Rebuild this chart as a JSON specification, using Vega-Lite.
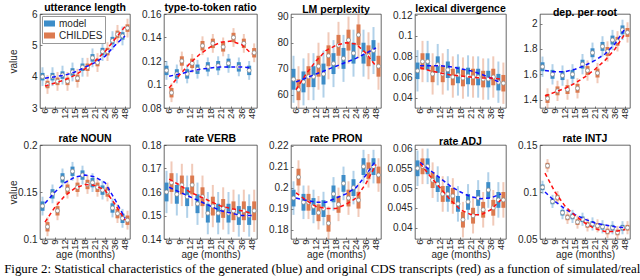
{
"$schema":"https://vega.github.io/schema/vega-lite/v6.json",
"padding":{"left":4,"top":2,"right":0,"bottom":0},
"datasets":{
"p1":[
{"a":"6","g":"model","lo":3.7,"q1":3.88,"m":4.0,"q3":4.12,"hi":4.3,"t":3.95},
{"a":"9","g":"model","lo":3.7,"q1":3.88,"m":4.0,"q3":4.12,"hi":4.3,"t":4.0},
{"a":"12","g":"model","lo":3.75,"q1":3.93,"m":4.05,"q3":4.17,"hi":4.35,"t":4.05},
{"a":"15","g":"model","lo":3.85,"q1":4.03,"m":4.15,"q3":4.27,"hi":4.45,"t":4.15},
{"a":"18","g":"model","lo":4.0,"q1":4.18,"m":4.3,"q3":4.42,"hi":4.6,"t":4.3},
{"a":"21","g":"model","lo":4.3,"q1":4.48,"m":4.6,"q3":4.72,"hi":4.9,"t":4.45},
{"a":"24","g":"model","lo":4.5,"q1":4.68,"m":4.8,"q3":4.92,"hi":5.1,"t":4.65},
{"a":"36","g":"model","lo":4.85,"q1":5.03,"m":5.15,"q3":5.27,"hi":5.45,"t":5.0},
{"a":"48","g":"model","lo":5.0,"q1":5.18,"m":5.3,"q3":5.42,"hi":5.6,"t":5.3},
{"a":"6","g":"CHILDES","lo":3.45,"q1":3.63,"m":3.75,"q3":3.87,"hi":4.05,"t":3.7},
{"a":"9","g":"CHILDES","lo":3.55,"q1":3.73,"m":3.85,"q3":3.97,"hi":4.15,"t":3.8},
{"a":"12","g":"CHILDES","lo":3.55,"q1":3.73,"m":3.85,"q3":3.97,"hi":4.15,"t":3.9},
{"a":"15","g":"CHILDES","lo":3.65,"q1":3.83,"m":3.95,"q3":4.07,"hi":4.25,"t":4.05},
{"a":"18","g":"CHILDES","lo":4.0,"q1":4.18,"m":4.3,"q3":4.42,"hi":4.6,"t":4.25},
{"a":"21","g":"CHILDES","lo":4.15,"q1":4.33,"m":4.45,"q3":4.57,"hi":4.75,"t":4.5},
{"a":"24","g":"CHILDES","lo":4.5,"q1":4.68,"m":4.8,"q3":4.92,"hi":5.1,"t":4.8},
{"a":"36","g":"CHILDES","lo":5.05,"q1":5.23,"m":5.35,"q3":5.47,"hi":5.65,"t":5.2},
{"a":"48","g":"CHILDES","lo":5.25,"q1":5.43,"m":5.55,"q3":5.67,"hi":5.85,"t":5.6}
],
"p2":[
{"a":"6","g":"model","lo":0.104,"q1":0.108,"m":0.112,"q3":0.116,"hi":0.120,"t":0.107},
{"a":"9","g":"model","lo":0.101,"q1":0.105,"m":0.109,"q3":0.113,"hi":0.117,"t":0.109},
{"a":"12","g":"model","lo":0.101,"q1":0.105,"m":0.109,"q3":0.113,"hi":0.117,"t":0.111},
{"a":"15","g":"model","lo":0.105,"q1":0.109,"m":0.113,"q3":0.117,"hi":0.121,"t":0.113},
{"a":"18","g":"model","lo":0.107,"q1":0.111,"m":0.115,"q3":0.119,"hi":0.123,"t":0.114},
{"a":"21","g":"model","lo":0.108,"q1":0.112,"m":0.116,"q3":0.120,"hi":0.124,"t":0.115},
{"a":"24","g":"model","lo":0.110,"q1":0.114,"m":0.118,"q3":0.122,"hi":0.126,"t":0.115},
{"a":"36","g":"model","lo":0.107,"q1":0.111,"m":0.115,"q3":0.119,"hi":0.123,"t":0.115},
{"a":"48","g":"model","lo":0.104,"q1":0.108,"m":0.112,"q3":0.116,"hi":0.120,"t":0.114},
{"a":"6","g":"CHILDES","lo":0.085,"q1":0.089,"m":0.093,"q3":0.097,"hi":0.101,"t":0.097},
{"a":"9","g":"CHILDES","lo":0.112,"q1":0.116,"m":0.120,"q3":0.124,"hi":0.128,"t":0.108},
{"a":"12","g":"CHILDES","lo":0.110,"q1":0.114,"m":0.118,"q3":0.122,"hi":0.126,"t":0.118},
{"a":"15","g":"CHILDES","lo":0.125,"q1":0.129,"m":0.133,"q3":0.137,"hi":0.141,"t":0.126},
{"a":"18","g":"CHILDES","lo":0.127,"q1":0.131,"m":0.135,"q3":0.139,"hi":0.143,"t":0.132},
{"a":"21","g":"CHILDES","lo":0.124,"q1":0.128,"m":0.132,"q3":0.136,"hi":0.140,"t":0.136},
{"a":"24","g":"CHILDES","lo":0.132,"q1":0.136,"m":0.140,"q3":0.144,"hi":0.148,"t":0.137},
{"a":"36","g":"CHILDES","lo":0.127,"q1":0.131,"m":0.135,"q3":0.139,"hi":0.143,"t":0.134},
{"a":"48","g":"CHILDES","lo":0.119,"q1":0.123,"m":0.127,"q3":0.131,"hi":0.135,"t":0.126}
],
"p3":[
{"a":"6","g":"model","lo":57,"q1":62,"m":66,"q3":70,"hi":75,"t":65},
{"a":"9","g":"model","lo":56,"q1":61,"m":65,"q3":69,"hi":74,"t":66.5},
{"a":"12","g":"model","lo":58,"q1":63,"m":67,"q3":71,"hi":76,"t":68},
{"a":"15","g":"model","lo":59,"q1":64,"m":68,"q3":72,"hi":77,"t":69.5},
{"a":"18","g":"model","lo":63,"q1":68,"m":72,"q3":76,"hi":81,"t":71},
{"a":"21","g":"model","lo":65,"q1":70,"m":74,"q3":78,"hi":83,"t":72.5},
{"a":"24","g":"model","lo":67,"q1":72,"m":76,"q3":80,"hi":85,"t":74},
{"a":"36","g":"model","lo":67,"q1":72,"m":76,"q3":80,"hi":85,"t":76},
{"a":"48","g":"model","lo":68,"q1":73,"m":77,"q3":81,"hi":86,"t":78},
{"a":"6","g":"CHILDES","lo":53,"q1":58,"m":62,"q3":66,"hi":71,"t":62},
{"a":"9","g":"CHILDES","lo":58,"q1":63,"m":67,"q3":71,"hi":76,"t":68},
{"a":"12","g":"CHILDES","lo":62,"q1":67,"m":71,"q3":75,"hi":80,"t":73},
{"a":"15","g":"CHILDES","lo":66,"q1":71,"m":75,"q3":79,"hi":84,"t":77},
{"a":"18","g":"CHILDES","lo":70,"q1":75,"m":79,"q3":83,"hi":88,"t":79},
{"a":"21","g":"CHILDES","lo":72,"q1":77,"m":81,"q3":85,"hi":90,"t":80},
{"a":"24","g":"CHILDES","lo":74,"q1":79,"m":83,"q3":87,"hi":92,"t":79.5},
{"a":"36","g":"CHILDES","lo":66,"q1":71,"m":75,"q3":79,"hi":84,"t":76},
{"a":"48","g":"CHILDES","lo":62,"q1":67,"m":71,"q3":75,"hi":80,"t":71}
],
"p4":[
{"a":"6","g":"model","lo":0.046,"q1":0.058,"m":0.066,"q3":0.074,"hi":0.086,"t":0.071},
{"a":"9","g":"model","lo":0.055,"q1":0.067,"m":0.075,"q3":0.083,"hi":0.095,"t":0.071},
{"a":"12","g":"model","lo":0.052,"q1":0.064,"m":0.072,"q3":0.080,"hi":0.092,"t":0.071},
{"a":"15","g":"model","lo":0.047,"q1":0.059,"m":0.067,"q3":0.075,"hi":0.087,"t":0.070},
{"a":"18","g":"model","lo":0.042,"q1":0.054,"m":0.062,"q3":0.070,"hi":0.082,"t":0.068},
{"a":"21","g":"model","lo":0.041,"q1":0.053,"m":0.061,"q3":0.069,"hi":0.081,"t":0.066},
{"a":"24","g":"model","lo":0.040,"q1":0.052,"m":0.060,"q3":0.068,"hi":0.080,"t":0.063},
{"a":"36","g":"model","lo":0.038,"q1":0.050,"m":0.058,"q3":0.066,"hi":0.078,"t":0.059},
{"a":"48","g":"model","lo":0.035,"q1":0.047,"m":0.055,"q3":0.063,"hi":0.075,"t":0.054},
{"a":"6","g":"CHILDES","lo":0.055,"q1":0.067,"m":0.075,"q3":0.083,"hi":0.095,"t":0.069},
{"a":"9","g":"CHILDES","lo":0.043,"q1":0.055,"m":0.063,"q3":0.071,"hi":0.083,"t":0.066},
{"a":"12","g":"CHILDES","lo":0.043,"q1":0.055,"m":0.063,"q3":0.071,"hi":0.083,"t":0.064},
{"a":"15","g":"CHILDES","lo":0.040,"q1":0.052,"m":0.060,"q3":0.068,"hi":0.080,"t":0.062},
{"a":"18","g":"CHILDES","lo":0.039,"q1":0.051,"m":0.059,"q3":0.067,"hi":0.079,"t":0.061},
{"a":"21","g":"CHILDES","lo":0.040,"q1":0.052,"m":0.060,"q3":0.068,"hi":0.080,"t":0.060},
{"a":"24","g":"CHILDES","lo":0.038,"q1":0.050,"m":0.058,"q3":0.066,"hi":0.078,"t":0.059},
{"a":"36","g":"CHILDES","lo":0.040,"q1":0.052,"m":0.060,"q3":0.068,"hi":0.080,"t":0.059},
{"a":"48","g":"CHILDES","lo":0.034,"q1":0.046,"m":0.054,"q3":0.062,"hi":0.074,"t":0.058}
],
"p5":[
{"a":"6","g":"model","lo":1.58,"q1":1.625,"m":1.66,"q3":1.695,"hi":1.74,"t":1.63},
{"a":"9","g":"model","lo":1.52,"q1":1.565,"m":1.60,"q3":1.635,"hi":1.68,"t":1.62},
{"a":"12","g":"model","lo":1.51,"q1":1.555,"m":1.59,"q3":1.625,"hi":1.67,"t":1.62},
{"a":"15","g":"model","lo":1.52,"q1":1.565,"m":1.60,"q3":1.635,"hi":1.68,"t":1.64},
{"a":"18","g":"model","lo":1.60,"q1":1.645,"m":1.68,"q3":1.715,"hi":1.76,"t":1.67},
{"a":"21","g":"model","lo":1.69,"q1":1.735,"m":1.77,"q3":1.805,"hi":1.85,"t":1.71},
{"a":"24","g":"model","lo":1.74,"q1":1.785,"m":1.82,"q3":1.855,"hi":1.90,"t":1.76},
{"a":"36","g":"model","lo":1.79,"q1":1.835,"m":1.87,"q3":1.905,"hi":1.95,"t":1.84},
{"a":"48","g":"model","lo":1.87,"q1":1.915,"m":1.95,"q3":1.985,"hi":2.03,"t":1.96},
{"a":"6","g":"CHILDES","lo":1.33,"q1":1.375,"m":1.41,"q3":1.445,"hi":1.49,"t":1.43},
{"a":"9","g":"CHILDES","lo":1.39,"q1":1.435,"m":1.47,"q3":1.505,"hi":1.55,"t":1.46},
{"a":"12","g":"CHILDES","lo":1.40,"q1":1.445,"m":1.48,"q3":1.515,"hi":1.56,"t":1.49},
{"a":"15","g":"CHILDES","lo":1.41,"q1":1.455,"m":1.49,"q3":1.525,"hi":1.57,"t":1.53},
{"a":"18","g":"CHILDES","lo":1.55,"q1":1.595,"m":1.63,"q3":1.665,"hi":1.71,"t":1.58},
{"a":"21","g":"CHILDES","lo":1.53,"q1":1.575,"m":1.61,"q3":1.645,"hi":1.69,"t":1.64},
{"a":"24","g":"CHILDES","lo":1.70,"q1":1.745,"m":1.78,"q3":1.815,"hi":1.86,"t":1.71},
{"a":"36","g":"CHILDES","lo":1.78,"q1":1.825,"m":1.86,"q3":1.895,"hi":1.94,"t":1.80},
{"a":"48","g":"CHILDES","lo":1.85,"q1":1.895,"m":1.93,"q3":1.965,"hi":2.01,"t":1.92}
],
"p6":[
{"a":"6","g":"model","lo":0.125,"q1":0.130,"m":0.135,"q3":0.140,"hi":0.145,"t":0.138},
{"a":"9","g":"model","lo":0.138,"q1":0.143,"m":0.148,"q3":0.153,"hi":0.158,"t":0.150},
{"a":"12","g":"model","lo":0.155,"q1":0.160,"m":0.165,"q3":0.170,"hi":0.175,"t":0.160},
{"a":"15","g":"model","lo":0.162,"q1":0.167,"m":0.172,"q3":0.177,"hi":0.182,"t":0.166},
{"a":"18","g":"model","lo":0.158,"q1":0.163,"m":0.168,"q3":0.173,"hi":0.178,"t":0.168},
{"a":"21","g":"model","lo":0.150,"q1":0.155,"m":0.160,"q3":0.165,"hi":0.170,"t":0.166},
{"a":"24","g":"model","lo":0.142,"q1":0.147,"m":0.152,"q3":0.157,"hi":0.162,"t":0.160},
{"a":"36","g":"model","lo":0.123,"q1":0.128,"m":0.133,"q3":0.138,"hi":0.143,"t":0.142},
{"a":"48","g":"model","lo":0.112,"q1":0.117,"m":0.122,"q3":0.127,"hi":0.132,"t":0.122},
{"a":"6","g":"CHILDES","lo":0.103,"q1":0.108,"m":0.113,"q3":0.118,"hi":0.123,"t":0.118},
{"a":"9","g":"CHILDES","lo":0.120,"q1":0.125,"m":0.130,"q3":0.135,"hi":0.140,"t":0.134},
{"a":"12","g":"CHILDES","lo":0.143,"q1":0.148,"m":0.153,"q3":0.158,"hi":0.163,"t":0.146},
{"a":"15","g":"CHILDES","lo":0.145,"q1":0.150,"m":0.155,"q3":0.160,"hi":0.165,"t":0.154},
{"a":"18","g":"CHILDES","lo":0.148,"q1":0.153,"m":0.158,"q3":0.163,"hi":0.168,"t":0.158},
{"a":"21","g":"CHILDES","lo":0.145,"q1":0.150,"m":0.155,"q3":0.160,"hi":0.165,"t":0.157},
{"a":"24","g":"CHILDES","lo":0.140,"q1":0.145,"m":0.150,"q3":0.155,"hi":0.160,"t":0.152},
{"a":"36","g":"CHILDES","lo":0.117,"q1":0.122,"m":0.127,"q3":0.132,"hi":0.137,"t":0.137},
{"a":"48","g":"CHILDES","lo":0.110,"q1":0.115,"m":0.120,"q3":0.125,"hi":0.130,"t":0.120}
],
"p7":[
{"a":"6","g":"model","lo":0.151,"q1":0.156,"m":0.160,"q3":0.164,"hi":0.169,"t":0.162},
{"a":"9","g":"model","lo":0.150,"q1":0.155,"m":0.159,"q3":0.163,"hi":0.168,"t":0.160},
{"a":"12","g":"model","lo":0.149,"q1":0.154,"m":0.158,"q3":0.162,"hi":0.167,"t":0.158},
{"a":"15","g":"model","lo":0.146,"q1":0.151,"m":0.155,"q3":0.159,"hi":0.164,"t":0.156},
{"a":"18","g":"model","lo":0.142,"q1":0.147,"m":0.151,"q3":0.155,"hi":0.160,"t":0.154},
{"a":"21","g":"model","lo":0.142,"q1":0.147,"m":0.151,"q3":0.155,"hi":0.160,"t":0.152},
{"a":"24","g":"model","lo":0.142,"q1":0.147,"m":0.151,"q3":0.155,"hi":0.160,"t":0.151},
{"a":"36","g":"model","lo":0.141,"q1":0.146,"m":0.150,"q3":0.154,"hi":0.159,"t":0.150},
{"a":"48","g":"model","lo":0.141,"q1":0.146,"m":0.150,"q3":0.154,"hi":0.159,"t":0.150},
{"a":"6","g":"CHILDES","lo":0.155,"q1":0.160,"m":0.164,"q3":0.168,"hi":0.173,"t":0.1655},
{"a":"9","g":"CHILDES","lo":0.154,"q1":0.159,"m":0.163,"q3":0.167,"hi":0.172,"t":0.163},
{"a":"12","g":"CHILDES","lo":0.154,"q1":0.159,"m":0.163,"q3":0.167,"hi":0.172,"t":0.160},
{"a":"15","g":"CHILDES","lo":0.149,"q1":0.154,"m":0.158,"q3":0.162,"hi":0.167,"t":0.158},
{"a":"18","g":"CHILDES","lo":0.145,"q1":0.150,"m":0.154,"q3":0.158,"hi":0.163,"t":0.156},
{"a":"21","g":"CHILDES","lo":0.144,"q1":0.149,"m":0.153,"q3":0.157,"hi":0.162,"t":0.154},
{"a":"24","g":"CHILDES","lo":0.143,"q1":0.148,"m":0.152,"q3":0.156,"hi":0.161,"t":0.153},
{"a":"36","g":"CHILDES","lo":0.143,"q1":0.148,"m":0.152,"q3":0.156,"hi":0.161,"t":0.152},
{"a":"48","g":"CHILDES","lo":0.143,"q1":0.148,"m":0.152,"q3":0.156,"hi":0.161,"t":0.151}
],
"p8":[
{"a":"6","g":"model","lo":0.187,"q1":0.191,"m":0.195,"q3":0.199,"hi":0.203,"t":0.195},
{"a":"9","g":"model","lo":0.185,"q1":0.189,"m":0.193,"q3":0.197,"hi":0.201,"t":0.194},
{"a":"12","g":"model","lo":0.183,"q1":0.187,"m":0.191,"q3":0.195,"hi":0.199,"t":0.193},
{"a":"15","g":"model","lo":0.182,"q1":0.186,"m":0.190,"q3":0.194,"hi":0.198,"t":0.193},
{"a":"18","g":"model","lo":0.189,"q1":0.193,"m":0.197,"q3":0.201,"hi":0.205,"t":0.195},
{"a":"21","g":"model","lo":0.194,"q1":0.198,"m":0.202,"q3":0.206,"hi":0.210,"t":0.197},
{"a":"24","g":"model","lo":0.192,"q1":0.196,"m":0.200,"q3":0.204,"hi":0.208,"t":0.200},
{"a":"36","g":"model","lo":0.202,"q1":0.206,"m":0.210,"q3":0.214,"hi":0.218,"t":0.206},
{"a":"48","g":"model","lo":0.202,"q1":0.206,"m":0.210,"q3":0.214,"hi":0.218,"t":0.213},
{"a":"6","g":"CHILDES","lo":0.197,"q1":0.201,"m":0.205,"q3":0.209,"hi":0.213,"t":0.1975},
{"a":"9","g":"CHILDES","lo":0.185,"q1":0.189,"m":0.193,"q3":0.197,"hi":0.201,"t":0.194},
{"a":"12","g":"CHILDES","lo":0.180,"q1":0.184,"m":0.188,"q3":0.192,"hi":0.196,"t":0.191},
{"a":"15","g":"CHILDES","lo":0.175,"q1":0.179,"m":0.183,"q3":0.187,"hi":0.191,"t":0.190},
{"a":"18","g":"CHILDES","lo":0.184,"q1":0.188,"m":0.192,"q3":0.196,"hi":0.200,"t":0.190},
{"a":"21","g":"CHILDES","lo":0.187,"q1":0.191,"m":0.195,"q3":0.199,"hi":0.203,"t":0.192},
{"a":"24","g":"CHILDES","lo":0.186,"q1":0.190,"m":0.194,"q3":0.198,"hi":0.202,"t":0.195},
{"a":"36","g":"CHILDES","lo":0.200,"q1":0.204,"m":0.208,"q3":0.212,"hi":0.216,"t":0.202},
{"a":"48","g":"CHILDES","lo":0.198,"q1":0.202,"m":0.206,"q3":0.210,"hi":0.214,"t":0.211}
],
"p9":[
{"a":"6","g":"model","lo":0.0505,"q1":0.0530,"m":0.0550,"q3":0.0570,"hi":0.0595,"t":0.0565},
{"a":"9","g":"model","lo":0.0510,"q1":0.0535,"m":0.0555,"q3":0.0575,"hi":0.0600,"t":0.0545},
{"a":"12","g":"model","lo":0.0465,"q1":0.0490,"m":0.0510,"q3":0.0530,"hi":0.0555,"t":0.0525},
{"a":"15","g":"model","lo":0.0440,"q1":0.0465,"m":0.0485,"q3":0.0505,"hi":0.0530,"t":0.0505},
{"a":"18","g":"model","lo":0.0415,"q1":0.0440,"m":0.0460,"q3":0.0480,"hi":0.0505,"t":0.0490},
{"a":"21","g":"model","lo":0.0420,"q1":0.0445,"m":0.0465,"q3":0.0485,"hi":0.0510,"t":0.0478},
{"a":"24","g":"model","lo":0.0430,"q1":0.0455,"m":0.0475,"q3":0.0495,"hi":0.0520,"t":0.0473},
{"a":"36","g":"model","lo":0.0450,"q1":0.0475,"m":0.0495,"q3":0.0515,"hi":0.0540,"t":0.0475},
{"a":"48","g":"model","lo":0.0425,"q1":0.0450,"m":0.0470,"q3":0.0490,"hi":0.0515,"t":0.0485},
{"a":"6","g":"CHILDES","lo":0.0510,"q1":0.0535,"m":0.0555,"q3":0.0575,"hi":0.0600,"t":0.0562},
{"a":"9","g":"CHILDES","lo":0.0475,"q1":0.0500,"m":0.0520,"q3":0.0540,"hi":0.0565,"t":0.0530},
{"a":"12","g":"CHILDES","lo":0.0440,"q1":0.0465,"m":0.0485,"q3":0.0505,"hi":0.0530,"t":0.0500},
{"a":"15","g":"CHILDES","lo":0.0435,"q1":0.0460,"m":0.0480,"q3":0.0500,"hi":0.0525,"t":0.0470},
{"a":"18","g":"CHILDES","lo":0.0375,"q1":0.0400,"m":0.0420,"q3":0.0440,"hi":0.0465,"t":0.0445},
{"a":"21","g":"CHILDES","lo":0.0385,"q1":0.0410,"m":0.0430,"q3":0.0450,"hi":0.0475,"t":0.0433},
{"a":"24","g":"CHILDES","lo":0.0400,"q1":0.0425,"m":0.0445,"q3":0.0465,"hi":0.0490,"t":0.0432},
{"a":"36","g":"CHILDES","lo":0.0405,"q1":0.0430,"m":0.0450,"q3":0.0470,"hi":0.0495,"t":0.0445},
{"a":"48","g":"CHILDES","lo":0.0425,"q1":0.0450,"m":0.0470,"q3":0.0490,"hi":0.0515,"t":0.0470}
],
"p10":[
{"a":"6","g":"model","lo":0.098,"q1":0.102,"m":0.105,"q3":0.108,"hi":0.112,"t":0.100},
{"a":"9","g":"model","lo":0.083,"q1":0.087,"m":0.090,"q3":0.093,"hi":0.097,"t":0.090},
{"a":"12","g":"model","lo":0.071,"q1":0.075,"m":0.078,"q3":0.081,"hi":0.085,"t":0.082},
{"a":"15","g":"model","lo":0.067,"q1":0.071,"m":0.074,"q3":0.077,"hi":0.081,"t":0.076},
{"a":"18","g":"model","lo":0.064,"q1":0.068,"m":0.071,"q3":0.074,"hi":0.078,"t":0.071},
{"a":"21","g":"model","lo":0.059,"q1":0.063,"m":0.066,"q3":0.069,"hi":0.073,"t":0.067},
{"a":"24","g":"model","lo":0.056,"q1":0.060,"m":0.063,"q3":0.066,"hi":0.070,"t":0.065},
{"a":"36","g":"model","lo":0.055,"q1":0.059,"m":0.062,"q3":0.065,"hi":0.069,"t":0.063},
{"a":"48","g":"model","lo":0.055,"q1":0.059,"m":0.062,"q3":0.065,"hi":0.069,"t":0.062},
{"a":"6","g":"CHILDES","lo":0.121,"q1":0.125,"m":0.128,"q3":0.131,"hi":0.135,"t":0.120},
{"a":"9","g":"CHILDES","lo":0.087,"q1":0.091,"m":0.094,"q3":0.097,"hi":0.101,"t":0.100},
{"a":"12","g":"CHILDES","lo":0.066,"q1":0.070,"m":0.073,"q3":0.076,"hi":0.080,"t":0.085},
{"a":"15","g":"CHILDES","lo":0.061,"q1":0.065,"m":0.068,"q3":0.071,"hi":0.075,"t":0.075},
{"a":"18","g":"CHILDES","lo":0.058,"q1":0.062,"m":0.065,"q3":0.068,"hi":0.072,"t":0.067},
{"a":"21","g":"CHILDES","lo":0.057,"q1":0.061,"m":0.064,"q3":0.067,"hi":0.071,"t":0.061},
{"a":"24","g":"CHILDES","lo":0.051,"q1":0.055,"m":0.058,"q3":0.061,"hi":0.065,"t":0.058},
{"a":"36","g":"CHILDES","lo":0.050,"q1":0.054,"m":0.057,"q3":0.060,"hi":0.064,"t":0.058},
{"a":"48","g":"CHILDES","lo":0.055,"q1":0.059,"m":0.062,"q3":0.065,"hi":0.069,"t":0.060}
]
},
"title":{"text":"Figure 2: Statistical characteristics of the generated (blue) and original CDS transcripts (red) as a function of simulated/real","orient":"bottom","anchor":"start","font":"Liberation Serif","fontSize":12.9,"fontWeight":"normal","color":"black","offset":3,"dx":-4},
"spacing":14,
"resolve":{"scale":{"color":"independent","stroke":"independent","x":"independent","y":"independent"},"legend":{"color":"independent","stroke":"independent"}},
"vconcat":[
{"hconcat":[
{"width":90,"height":94,"title":"utterance length","data":{"name":"p1"},
"encoding":{"x":{"field":"a","type":"ordinal","sort":["6","9","12","15","18","21","24","36","48"],"title":null,"scale":{"type":"band","paddingInner":0,"paddingOuter":0}}},
"layer":[
{"mark":{"type":"bar","width":2,"opacity":0.4,"clip":true},"encoding":{"xOffset":{"field":"g","sort":["model","CHILDES"]},"y":{"field":"lo","type":"quantitative","title":"value","scale":{"domain":[3,6],"nice":false,"zero":false},"axis":{"values":[3,4,5,6],"tickCount":20,"labelExpr":"toString(datum.value)","labelOverlap":false}},"y2":{"field":"hi"},"color":{"field":"g","scale":{"domain":["model","CHILDES"],"range":["#3d8dc8","#dc7a4f"]},"legend":{"orient":"top-left","offset":2,"title":null,"symbolType":"M-1,-0.55H1V0.55H-1Z","symbolSize":121,"symbolStrokeWidth":0,"symbolOpacity":1,"labelFontSize":10,"labelColor":"#262626","padding":2,"rowPadding":1,"strokeColor":"#999","fillColor":"white","labelOffset":4}}}},
{"mark":{"type":"bar","width":4,"clip":true},"encoding":{"xOffset":{"field":"g","sort":["model","CHILDES"]},"y":{"field":"q1","type":"quantitative","title":"value"},"y2":{"field":"q3"},"color":{"field":"g","scale":{"domain":["model","CHILDES"],"range":["#3d8dc8","#dc7a4f"]},"legend":{"orient":"top-left","offset":2,"title":null,"symbolType":"M-1,-0.55H1V0.55H-1Z","symbolSize":121,"symbolStrokeWidth":0,"symbolOpacity":1,"labelFontSize":10,"labelColor":"#262626","padding":2,"rowPadding":1,"strokeColor":"#999","fillColor":"white","labelOffset":4}}}},
{"mark":{"type":"point","filled":true,"fill":"white","stroke":"#888","strokeWidth":0.7,"size":16,"opacity":1,"clip":true},"encoding":{"xOffset":{"field":"g","sort":["model","CHILDES"]},"y":{"field":"m","type":"quantitative","title":"value"}}},
{"mark":{"type":"line","strokeDash":[4,3],"strokeWidth":1.5,"clip":true},"encoding":{"y":{"field":"t","type":"quantitative","title":"value"},"stroke":{"field":"g","scale":{"domain":["model","CHILDES"],"range":["#1010ff","#ff1010"]},"legend":null}}}
]},
{"width":93,"height":94,"title":"type-to-token ratio","data":{"name":"p2"},
"encoding":{"x":{"field":"a","type":"ordinal","sort":["6","9","12","15","18","21","24","36","48"],"title":null,"scale":{"type":"band","paddingInner":0,"paddingOuter":0}}},
"layer":[
{"mark":{"type":"bar","width":2,"opacity":0.4,"clip":true},"encoding":{"xOffset":{"field":"g","sort":["model","CHILDES"]},"y":{"field":"lo","type":"quantitative","title":null,"scale":{"domain":[0.08,0.16],"nice":false,"zero":false},"axis":{"values":[0.08,0.1,0.12,0.14,0.16],"tickCount":20,"labelExpr":"toString(datum.value)","labelOverlap":false}},"y2":{"field":"hi"},"color":{"field":"g","scale":{"domain":["model","CHILDES"],"range":["#3d8dc8","#dc7a4f"]},"legend":null}}},
{"mark":{"type":"bar","width":4,"clip":true},"encoding":{"xOffset":{"field":"g","sort":["model","CHILDES"]},"y":{"field":"q1","type":"quantitative","title":null},"y2":{"field":"q3"},"color":{"field":"g","scale":{"domain":["model","CHILDES"],"range":["#3d8dc8","#dc7a4f"]},"legend":null}}},
{"mark":{"type":"point","filled":true,"fill":"white","stroke":"#888","strokeWidth":0.7,"size":16,"opacity":1,"clip":true},"encoding":{"xOffset":{"field":"g","sort":["model","CHILDES"]},"y":{"field":"m","type":"quantitative","title":null}}},
{"mark":{"type":"line","strokeDash":[4,3],"strokeWidth":1.5,"clip":true},"encoding":{"y":{"field":"t","type":"quantitative","title":null},"stroke":{"field":"g","scale":{"domain":["model","CHILDES"],"range":["#1010ff","#ff1010"]},"legend":null}}}
]},
{"width":90,"height":94,"title":"LM perplexity","data":{"name":"p3"},
"encoding":{"x":{"field":"a","type":"ordinal","sort":["6","9","12","15","18","21","24","36","48"],"title":null,"scale":{"type":"band","paddingInner":0,"paddingOuter":0}}},
"layer":[
{"mark":{"type":"bar","width":2,"opacity":0.4,"clip":true},"encoding":{"xOffset":{"field":"g","sort":["model","CHILDES"]},"y":{"field":"lo","type":"quantitative","title":null,"scale":{"domain":[55,91],"nice":false,"zero":false},"axis":{"values":[60,70,80,90],"tickCount":20,"labelExpr":"toString(datum.value)","labelOverlap":false}},"y2":{"field":"hi"},"color":{"field":"g","scale":{"domain":["model","CHILDES"],"range":["#3d8dc8","#dc7a4f"]},"legend":null}}},
{"mark":{"type":"bar","width":4,"clip":true},"encoding":{"xOffset":{"field":"g","sort":["model","CHILDES"]},"y":{"field":"q1","type":"quantitative","title":null},"y2":{"field":"q3"},"color":{"field":"g","scale":{"domain":["model","CHILDES"],"range":["#3d8dc8","#dc7a4f"]},"legend":null}}},
{"mark":{"type":"point","filled":true,"fill":"white","stroke":"#888","strokeWidth":0.7,"size":16,"opacity":1,"clip":true},"encoding":{"xOffset":{"field":"g","sort":["model","CHILDES"]},"y":{"field":"m","type":"quantitative","title":null}}},
{"mark":{"type":"line","strokeDash":[4,3],"strokeWidth":1.5,"clip":true},"encoding":{"y":{"field":"t","type":"quantitative","title":null},"stroke":{"field":"g","scale":{"domain":["model","CHILDES"],"range":["#1010ff","#ff1010"]},"legend":null}}}
]},
{"width":91,"height":94,"title":"lexical divergence","data":{"name":"p4"},
"encoding":{"x":{"field":"a","type":"ordinal","sort":["6","9","12","15","18","21","24","36","48"],"title":null,"scale":{"type":"band","paddingInner":0,"paddingOuter":0}}},
"layer":[
{"mark":{"type":"bar","width":2,"opacity":0.4,"clip":true},"encoding":{"xOffset":{"field":"g","sort":["model","CHILDES"]},"y":{"field":"lo","type":"quantitative","title":null,"scale":{"domain":[0.03,0.121],"nice":false,"zero":false},"axis":{"values":[0.04,0.06,0.08,0.1,0.12],"tickCount":20,"labelExpr":"toString(datum.value)","labelOverlap":false}},"y2":{"field":"hi"},"color":{"field":"g","scale":{"domain":["model","CHILDES"],"range":["#3d8dc8","#dc7a4f"]},"legend":null}}},
{"mark":{"type":"bar","width":4,"clip":true},"encoding":{"xOffset":{"field":"g","sort":["model","CHILDES"]},"y":{"field":"q1","type":"quantitative","title":null},"y2":{"field":"q3"},"color":{"field":"g","scale":{"domain":["model","CHILDES"],"range":["#3d8dc8","#dc7a4f"]},"legend":null}}},
{"mark":{"type":"point","filled":true,"fill":"white","stroke":"#888","strokeWidth":0.7,"size":16,"opacity":1,"clip":true},"encoding":{"xOffset":{"field":"g","sort":["model","CHILDES"]},"y":{"field":"m","type":"quantitative","title":null}}},
{"mark":{"type":"line","strokeDash":[4,3],"strokeWidth":1.5,"clip":true},"encoding":{"y":{"field":"t","type":"quantitative","title":null},"stroke":{"field":"g","scale":{"domain":["model","CHILDES"],"range":["#1010ff","#ff1010"]},"legend":null}}}
]},
{"width":90,"height":94,"title":"dep. per root","data":{"name":"p5"},
"encoding":{"x":{"field":"a","type":"ordinal","sort":["6","9","12","15","18","21","24","36","48"],"title":null,"scale":{"type":"band","paddingInner":0,"paddingOuter":0}}},
"layer":[
{"mark":{"type":"bar","width":2,"opacity":0.4,"clip":true},"encoding":{"xOffset":{"field":"g","sort":["model","CHILDES"]},"y":{"field":"lo","type":"quantitative","title":null,"scale":{"domain":[1.335,2.075],"nice":false,"zero":false},"axis":{"values":[1.4,1.6,1.8,2],"tickCount":20,"labelExpr":"toString(datum.value)","labelOverlap":false}},"y2":{"field":"hi"},"color":{"field":"g","scale":{"domain":["model","CHILDES"],"range":["#3d8dc8","#dc7a4f"]},"legend":null}}},
{"mark":{"type":"bar","width":4,"clip":true},"encoding":{"xOffset":{"field":"g","sort":["model","CHILDES"]},"y":{"field":"q1","type":"quantitative","title":null},"y2":{"field":"q3"},"color":{"field":"g","scale":{"domain":["model","CHILDES"],"range":["#3d8dc8","#dc7a4f"]},"legend":null}}},
{"mark":{"type":"point","filled":true,"fill":"white","stroke":"#888","strokeWidth":0.7,"size":16,"opacity":1,"clip":true},"encoding":{"xOffset":{"field":"g","sort":["model","CHILDES"]},"y":{"field":"m","type":"quantitative","title":null}}},
{"mark":{"type":"line","strokeDash":[4,3],"strokeWidth":1.5,"clip":true},"encoding":{"y":{"field":"t","type":"quantitative","title":null},"stroke":{"field":"g","scale":{"domain":["model","CHILDES"],"range":["#1010ff","#ff1010"]},"legend":null}}}
]}
],"spacing":34,"bounds":"flush","resolve":{"scale":{"color":"independent","stroke":"independent","x":"independent","y":"independent"},"legend":{"color":"independent","stroke":"independent"}}},
{"hconcat":[
{"width":90,"height":94,"title":"rate NOUN","data":{"name":"p6"},
"encoding":{"x":{"field":"a","type":"ordinal","sort":["6","9","12","15","18","21","24","36","48"],"title":"age (months)","scale":{"type":"band","paddingInner":0,"paddingOuter":0}}},
"layer":[
{"mark":{"type":"bar","width":2,"opacity":0.4,"clip":true},"encoding":{"xOffset":{"field":"g","sort":["model","CHILDES"]},"y":{"field":"lo","type":"quantitative","title":"value","scale":{"domain":[0.1,0.2],"nice":false,"zero":false},"axis":{"values":[0.1,0.15,0.2],"tickCount":20,"labelExpr":"toString(datum.value)","labelOverlap":false}},"y2":{"field":"hi"},"color":{"field":"g","scale":{"domain":["model","CHILDES"],"range":["#3d8dc8","#dc7a4f"]},"legend":null}}},
{"mark":{"type":"bar","width":4,"clip":true},"encoding":{"xOffset":{"field":"g","sort":["model","CHILDES"]},"y":{"field":"q1","type":"quantitative","title":"value"},"y2":{"field":"q3"},"color":{"field":"g","scale":{"domain":["model","CHILDES"],"range":["#3d8dc8","#dc7a4f"]},"legend":null}}},
{"mark":{"type":"point","filled":true,"fill":"white","stroke":"#888","strokeWidth":0.7,"size":16,"opacity":1,"clip":true},"encoding":{"xOffset":{"field":"g","sort":["model","CHILDES"]},"y":{"field":"m","type":"quantitative","title":"value"}}},
{"mark":{"type":"line","strokeDash":[4,3],"strokeWidth":1.5,"clip":true},"encoding":{"y":{"field":"t","type":"quantitative","title":"value"},"stroke":{"field":"g","scale":{"domain":["model","CHILDES"],"range":["#1010ff","#ff1010"]},"legend":null}}}
]},
{"width":93,"height":94,"title":"rate VERB","data":{"name":"p7"},
"encoding":{"x":{"field":"a","type":"ordinal","sort":["6","9","12","15","18","21","24","36","48"],"title":"age (months)","scale":{"type":"band","paddingInner":0,"paddingOuter":0}}},
"layer":[
{"mark":{"type":"bar","width":2,"opacity":0.4,"clip":true},"encoding":{"xOffset":{"field":"g","sort":["model","CHILDES"]},"y":{"field":"lo","type":"quantitative","title":null,"scale":{"domain":[0.14,0.18],"nice":false,"zero":false},"axis":{"values":[0.14,0.15,0.16,0.17,0.18],"tickCount":20,"labelExpr":"toString(datum.value)","labelOverlap":false}},"y2":{"field":"hi"},"color":{"field":"g","scale":{"domain":["model","CHILDES"],"range":["#3d8dc8","#dc7a4f"]},"legend":null}}},
{"mark":{"type":"bar","width":4,"clip":true},"encoding":{"xOffset":{"field":"g","sort":["model","CHILDES"]},"y":{"field":"q1","type":"quantitative","title":null},"y2":{"field":"q3"},"color":{"field":"g","scale":{"domain":["model","CHILDES"],"range":["#3d8dc8","#dc7a4f"]},"legend":null}}},
{"mark":{"type":"point","filled":true,"fill":"white","stroke":"#888","strokeWidth":0.7,"size":16,"opacity":1,"clip":true},"encoding":{"xOffset":{"field":"g","sort":["model","CHILDES"]},"y":{"field":"m","type":"quantitative","title":null}}},
{"mark":{"type":"line","strokeDash":[4,3],"strokeWidth":1.5,"clip":true},"encoding":{"y":{"field":"t","type":"quantitative","title":null},"stroke":{"field":"g","scale":{"domain":["model","CHILDES"],"range":["#1010ff","#ff1010"]},"legend":null}}}
]},
{"width":90,"height":94,"title":"rate PRON","data":{"name":"p8"},
"encoding":{"x":{"field":"a","type":"ordinal","sort":["6","9","12","15","18","21","24","36","48"],"title":"age (months)","scale":{"type":"band","paddingInner":0,"paddingOuter":0}}},
"layer":[
{"mark":{"type":"bar","width":2,"opacity":0.4,"clip":true},"encoding":{"xOffset":{"field":"g","sort":["model","CHILDES"]},"y":{"field":"lo","type":"quantitative","title":null,"scale":{"domain":[0.1755,0.2203],"nice":false,"zero":false},"axis":{"values":[0.18,0.19,0.2,0.21,0.22],"tickCount":20,"labelExpr":"toString(datum.value)","labelOverlap":false}},"y2":{"field":"hi"},"color":{"field":"g","scale":{"domain":["model","CHILDES"],"range":["#3d8dc8","#dc7a4f"]},"legend":null}}},
{"mark":{"type":"bar","width":4,"clip":true},"encoding":{"xOffset":{"field":"g","sort":["model","CHILDES"]},"y":{"field":"q1","type":"quantitative","title":null},"y2":{"field":"q3"},"color":{"field":"g","scale":{"domain":["model","CHILDES"],"range":["#3d8dc8","#dc7a4f"]},"legend":null}}},
{"mark":{"type":"point","filled":true,"fill":"white","stroke":"#888","strokeWidth":0.7,"size":16,"opacity":1,"clip":true},"encoding":{"xOffset":{"field":"g","sort":["model","CHILDES"]},"y":{"field":"m","type":"quantitative","title":null}}},
{"mark":{"type":"line","strokeDash":[4,3],"strokeWidth":1.5,"clip":true},"encoding":{"y":{"field":"t","type":"quantitative","title":null},"stroke":{"field":"g","scale":{"domain":["model","CHILDES"],"range":["#1010ff","#ff1010"]},"legend":null}}}
]},
{"width":91,"height":94,"title":"rate ADJ","data":{"name":"p9"},
"encoding":{"x":{"field":"a","type":"ordinal","sort":["6","9","12","15","18","21","24","36","48"],"title":"age (months)","scale":{"type":"band","paddingInner":0,"paddingOuter":0}}},
"layer":[
{"mark":{"type":"bar","width":2,"opacity":0.4,"clip":true},"encoding":{"xOffset":{"field":"g","sort":["model","CHILDES"]},"y":{"field":"lo","type":"quantitative","title":null,"scale":{"domain":[0.0371,0.0609],"nice":false,"zero":false},"axis":{"values":[0.04,0.045,0.05,0.055,0.06],"tickCount":20,"labelExpr":"toString(datum.value)","labelOverlap":false}},"y2":{"field":"hi"},"color":{"field":"g","scale":{"domain":["model","CHILDES"],"range":["#3d8dc8","#dc7a4f"]},"legend":null}}},
{"mark":{"type":"bar","width":4,"clip":true},"encoding":{"xOffset":{"field":"g","sort":["model","CHILDES"]},"y":{"field":"q1","type":"quantitative","title":null},"y2":{"field":"q3"},"color":{"field":"g","scale":{"domain":["model","CHILDES"],"range":["#3d8dc8","#dc7a4f"]},"legend":null}}},
{"mark":{"type":"point","filled":true,"fill":"white","stroke":"#888","strokeWidth":0.7,"size":16,"opacity":1,"clip":true},"encoding":{"xOffset":{"field":"g","sort":["model","CHILDES"]},"y":{"field":"m","type":"quantitative","title":null}}},
{"mark":{"type":"line","strokeDash":[4,3],"strokeWidth":1.5,"clip":true},"encoding":{"y":{"field":"t","type":"quantitative","title":null},"stroke":{"field":"g","scale":{"domain":["model","CHILDES"],"range":["#1010ff","#ff1010"]},"legend":null}}}
]},
{"width":90,"height":94,"title":"rate INTJ","data":{"name":"p10"},
"encoding":{"x":{"field":"a","type":"ordinal","sort":["6","9","12","15","18","21","24","36","48"],"title":"age (months)","scale":{"type":"band","paddingInner":0,"paddingOuter":0}}},
"layer":[
{"mark":{"type":"bar","width":2,"opacity":0.4,"clip":true},"encoding":{"xOffset":{"field":"g","sort":["model","CHILDES"]},"y":{"field":"lo","type":"quantitative","title":null,"scale":{"domain":[0.05,0.15],"nice":false,"zero":false},"axis":{"values":[0.05,0.1,0.15],"tickCount":20,"labelExpr":"toString(datum.value)","labelOverlap":false}},"y2":{"field":"hi"},"color":{"field":"g","scale":{"domain":["model","CHILDES"],"range":["#3d8dc8","#dc7a4f"]},"legend":null}}},
{"mark":{"type":"bar","width":4,"clip":true},"encoding":{"xOffset":{"field":"g","sort":["model","CHILDES"]},"y":{"field":"q1","type":"quantitative","title":null},"y2":{"field":"q3"},"color":{"field":"g","scale":{"domain":["model","CHILDES"],"range":["#3d8dc8","#dc7a4f"]},"legend":null}}},
{"mark":{"type":"point","filled":true,"fill":"white","stroke":"#888","strokeWidth":0.7,"size":16,"opacity":1,"clip":true},"encoding":{"xOffset":{"field":"g","sort":["model","CHILDES"]},"y":{"field":"m","type":"quantitative","title":null}}},
{"mark":{"type":"line","strokeDash":[4,3],"strokeWidth":1.5,"clip":true},"encoding":{"y":{"field":"t","type":"quantitative","title":null},"stroke":{"field":"g","scale":{"domain":["model","CHILDES"],"range":["#1010ff","#ff1010"]},"legend":null}}}
]}
],"spacing":34,"bounds":"flush","resolve":{"scale":{"color":"independent","stroke":"independent","x":"independent","y":"independent"},"legend":{"color":"independent","stroke":"independent"}}}
],
"config":{
"font":"Liberation Sans",
"view":{"stroke":"#262626","strokeWidth":0.7},
"axis":{"labelFont":"Liberation Sans","labelFontSize":10,"labelColor":"#262626","domain":false,"tickColor":"#262626","tickSize":-2,"tickWidth":0.6,"grid":false,"titleFont":"Liberation Sans","titleFontSize":10,"titleFontWeight":"normal","titleColor":"#262626","labelOverlap":false},
"axisX":{"labelAngle":-90,"labelPadding":2,"titlePadding":0,"labelFontSize":9.5},
"axisY":{"labelPadding":5,"minExtent":20,"maxExtent":20,"titlePadding":1.5,"labelOverlap":false},
"title":{"fontSize":10.5,"fontWeight":"bold","font":"Liberation Sans","offset":-4,"color":"black"},
"legend":{"labelFont":"Liberation Sans"}
}
}
